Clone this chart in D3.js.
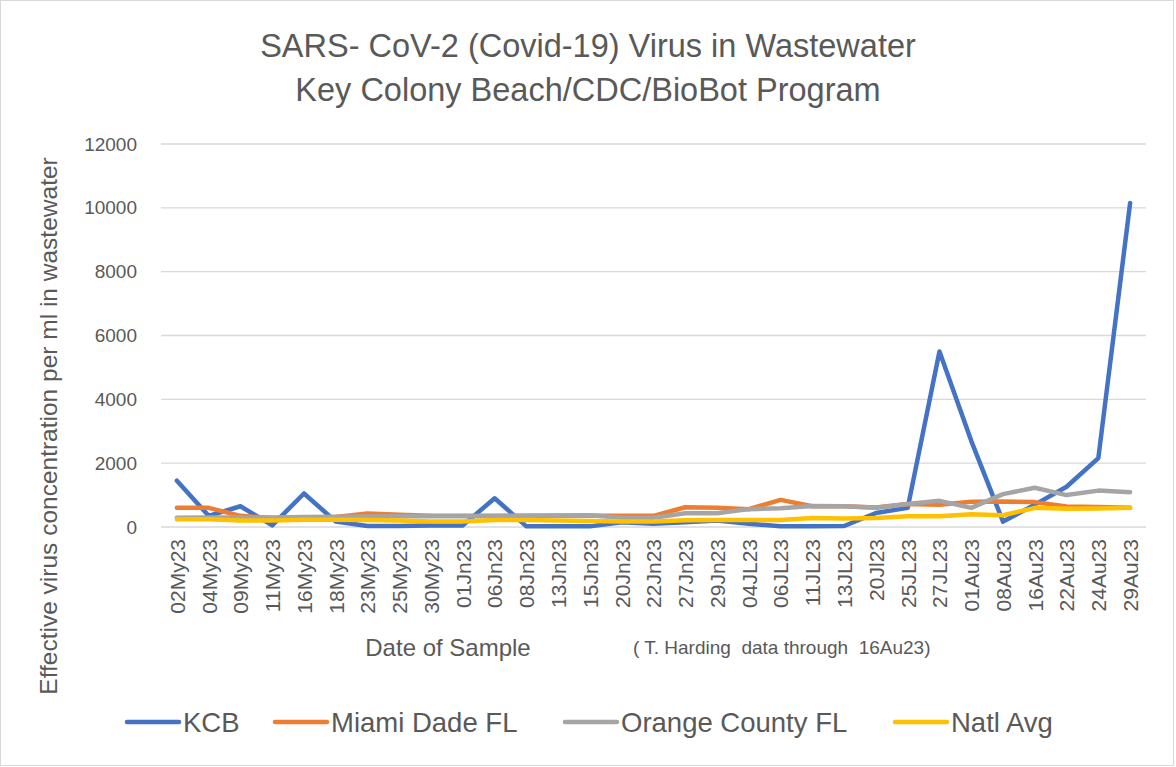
<!DOCTYPE html>
<html><head><meta charset="utf-8">
<script src="https://cdn.jsdelivr.net/npm/d3@7"></script>
<style>body{margin:0;background:#fff}svg{display:block}text{font-family:"Liberation Sans",Arial,sans-serif;fill:#595959}</style>
</head><body><svg id="c" width="1176" height="767"></svg>
<script>
const categories = ["02My23","04My23","09My23","11My23","16My23","18My23","23My23","25My23","30My23","01Jn23","06Jn23","08Jn23","13Jn23","15Jn23","20Jn23","22Jn23","27Jn23","29Jn23","04JL23","06JL23","11JL23","13JL23","20Jl23","25JL23","27JL23","01Au23","08Au23","16Au23","22Au23","24Au23","29Au23"];
const kcb      = [1450,350,650,50,1050,170,30,30,50,50,900,20,20,20,150,100,150,200,100,20,20,30,440,600,5500,2700,170,700,1260,2160,10150];
const miami    = [600,600,350,280,280,310,420,380,350,350,350,350,350,350,350,350,620,600,560,850,650,650,610,720,700,790,800,780,640,630,600];
const orange   = [290,300,300,300,310,320,330,340,340,340,340,350,360,370,290,290,430,430,560,590,660,650,600,720,820,600,1030,1230,1000,1140,1090];
const natl     = [240,240,200,200,230,230,220,200,170,170,220,220,200,190,170,170,210,220,220,220,280,270,280,340,340,400,370,600,570,580,600];
const yTicks   = [0,2000,4000,6000,8000,10000,12000];
const seriesNames = ["KCB","Miami Dade FL","Orange County FL","Natl Avg"];
const seriesColors = ["#4472C4","#ED7D31","#A5A5A5","#FFC000"];
const seriesData = [kcb, miami, orange, natl];

const svg = d3.select("#c");
svg.append("rect").attr("x",0.5).attr("y",0.5).attr("width",1173).attr("height",765).attr("fill","#fff").attr("stroke","#d9d9d9");

const L=161, R=1146, T=144, B=527;
const x = d3.scalePoint().domain(categories).range([L,R]).padding(0.5);
const y = d3.scaleLinear().domain([0,12000]).range([B,T]);

// title
svg.append("text").attr("x",588).attr("y",57).attr("text-anchor","middle").style("font-size","32.5px").text("SARS- CoV-2 (Covid-19) Virus in Wastewater");
svg.append("text").attr("x",588).attr("y",101).attr("text-anchor","middle").style("font-size","32.5px").text("Key Colony Beach/CDC/BioBot Program");

// gridlines
svg.append("g").selectAll("line").data(yTicks).join("line")
  .attr("x1",L).attr("x2",R).attr("y1",d=>y(d)).attr("y2",d=>y(d))
  .attr("stroke","#d9d9d9").attr("stroke-width",1.3);

// y axis
const ya = svg.append("g").attr("transform",`translate(${L},0)`).call(d3.axisLeft(y).tickValues(yTicks).tickSize(0).tickPadding(24).tickFormat(d3.format("d")));
ya.select(".domain").remove();
ya.selectAll("text").style("font-size","19px").attr("fill","#595959");

// x axis
const xa = svg.append("g").attr("transform",`translate(0,${B})`).call(d3.axisBottom(x).tickSize(0));
xa.select(".domain").remove();
xa.selectAll("text").style("font-size","21px").attr("fill","#595959")
  .attr("transform","rotate(-90)").attr("text-anchor","end").attr("x",-12).attr("y",0).attr("dy","0.35em");

// lines
const line = d3.line().x((d,i)=>x(categories[i])).y(d=>y(d));
seriesData.forEach((s,k)=>{
  svg.append("path").datum(s).attr("d",line).attr("fill","none")
    .attr("stroke",seriesColors[k]).attr("stroke-width",4.5)
    .attr("stroke-linejoin","round").attr("stroke-linecap","round");
});

// axis titles
svg.append("text").attr("x",448).attr("y",656).attr("text-anchor","middle").style("font-size","24px").text("Date of Sample");
svg.append("text").attr("x",633).attr("y",654).style("font-size","19px").attr("xml:space","preserve").text("( T. Harding  data through  16Au23)");
svg.append("text").attr("transform","translate(57,426) rotate(-90)").attr("text-anchor","middle").style("font-size","24.5px").text("Effective virus concentration per ml in wastewater");

// legend
const legX = [125,273,563,893];
const lg = svg.append("g").selectAll("g").data(seriesNames).join("g").attr("transform",(d,i)=>`translate(${legX[i]},722)`);
lg.append("line").attr("x1",2).attr("x2",54).attr("y1",0).attr("y2",0).attr("stroke",(d,i)=>seriesColors[i]).attr("stroke-width",4.5).attr("stroke-linecap","round");
lg.append("text").attr("x",58).attr("y",10).style("font-size","27.5px").text(d=>d);
</script></body></html>
